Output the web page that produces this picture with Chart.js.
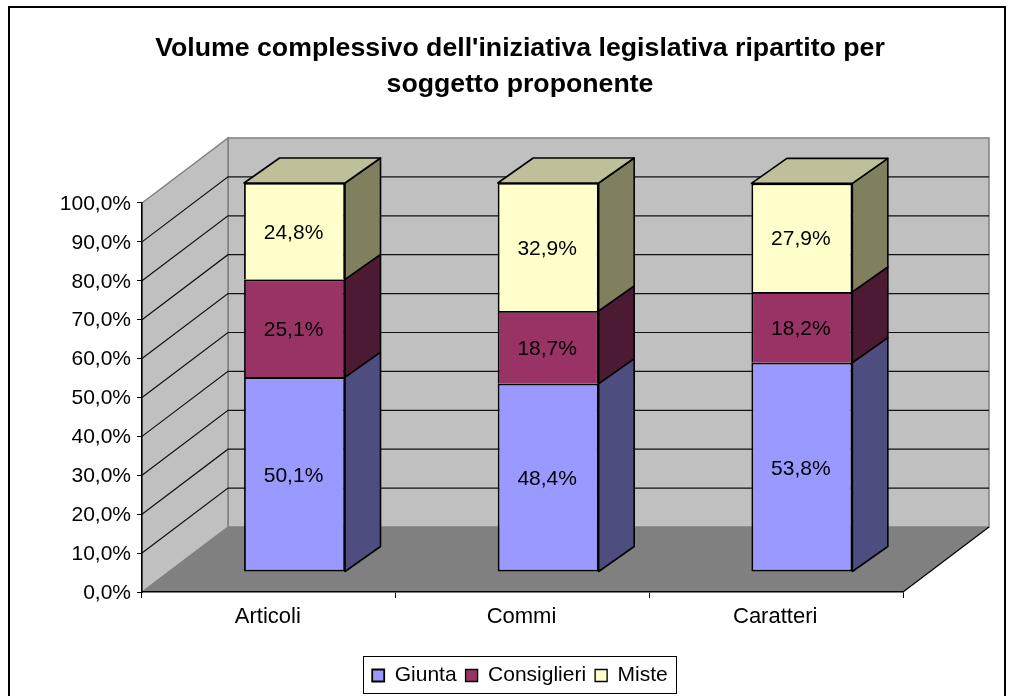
<!DOCTYPE html>
<html><head><meta charset="utf-8">
<style>html,body{margin:0;padding:0;background:#fff}canvas{display:block}</style>
<script src="https://cdn.jsdelivr.net/npm/chart.js@4"></script>
</head><body><canvas id="c" width="1016" height="696"></canvas>
<script>
const categories = ['Articoli','Commi','Caratteri'];
const seriesNames = ['Giunta','Consiglieri','Miste'];
const giunta = [50.1,48.4,53.8];
const consiglieri = [25.1,18.7,18.2];
const miste = [24.8,32.9,27.9];
const titleLines = ["Volume complessivo dell'iniziativa legislativa ripartito per","soggetto proponente"];
const colors = ['#9999FF','#993366','#FFFFCC'];
const sideColors = ['#4D4D80','#4D1A33','#80805F'];
const topColors = ['#7373BF','#732650','#BFBF99'];
const FONT = '"Liberation Sans", Arial, sans-serif';
const WALL = {dx:86, dy:-65};
const FRONT = {dx:25.7, dy:-20};
const BAR = {dx:35.5, dy:-25};
const fmt = v => v.toFixed(1).replace('.',',') + '%';

const scene = {
  id:'scene',
  beforeDraw(chart){
    const c = chart.ctx, a = chart.chartArea, y = chart.scales.y;
    y.left = 0; // y tick labels sit in the left layout padding
    c.save();
    c.fillStyle='#fff'; c.fillRect(0,0,chart.width,chart.height);
    c.strokeStyle='#000'; c.lineWidth=2;
    c.strokeRect(9,7,996,720);
    const L=a.left,R=a.right,B=a.bottom,T=a.top,dx=WALL.dx,dy=WALL.dy;
    c.fillStyle='#C0C0C0'; c.strokeStyle='#808080'; c.lineWidth=1.5;
    c.beginPath();c.moveTo(L+dx,T+dy);c.lineTo(R+dx,T+dy);c.lineTo(R+dx,B+dy);c.lineTo(L+dx,B+dy);c.closePath();c.fill();c.stroke();
    c.beginPath();c.moveTo(L,T);c.lineTo(L+dx,T+dy);c.lineTo(L+dx,B+dy);c.lineTo(L,B);c.closePath();c.fill();c.stroke();
    c.fillStyle='#808080';
    c.beginPath();c.moveTo(L,B);c.lineTo(L+dx,B+dy);c.lineTo(R+dx,B+dy);c.lineTo(R,B);c.closePath();c.fill();
    c.strokeStyle='#000'; c.lineWidth=1.2;
    c.beginPath();c.moveTo(R,B);c.lineTo(R+dx,B+dy);c.stroke();
    y.ticks.forEach(t=>{
      if(t.value===0||t.value===100) return;
      const p=y.getPixelForValue(t.value);
      c.strokeStyle='#111';c.lineWidth=1.2;
      c.beginPath();c.moveTo(L,p);c.lineTo(L+dx,p+dy);c.lineTo(R+dx,p+dy);c.stroke();
    });
    c.restore();
    const lg=chart.legend, h=lg.legendHitBoxes;
    const lx=Math.round(h[0].left)-9, rx=Math.round(h[h.length-1].left+h[h.length-1].width)+8;
    const cy=Math.round(lg.top+lg.height/2);
    c.save();c.strokeStyle='#000';c.lineWidth=1;
    c.strokeRect(lx+.5,cy-19.5,rx-lx,37);
    c.restore();
  },
  beforeDatasetsDraw(chart){
    const c=chart.ctx;
    c.save();
    c.translate(FRONT.dx,FRONT.dy);
    c.lineJoin='round';c.lineWidth=1.6;c.strokeStyle='#000';
    const n=chart.data.labels.length;
    for(let i=0;i<n;i++){
      chart.data.datasets.forEach((ds,k)=>{
        const b=chart.getDatasetMeta(k).data[i].getProps(['x','y','base','width'],true);
        const r=b.x+b.width/2,t=b.y,u=b.base,l=b.x-b.width/2;
        c.fillStyle=sideColors[k];
        c.beginPath();c.moveTo(r,t);c.lineTo(r+BAR.dx,t+BAR.dy);c.lineTo(r+BAR.dx,u+BAR.dy);c.lineTo(r,u);c.closePath();c.fill();c.stroke();
        if(k===chart.data.datasets.length-1){
          c.fillStyle=topColors[k];
          c.beginPath();c.moveTo(l,t);c.lineTo(l+BAR.dx,t+BAR.dy);c.lineTo(r+BAR.dx,t+BAR.dy);c.lineTo(r,t);c.closePath();c.fill();c.stroke();
        }
      });
    }
  },
  afterDatasetsDraw(chart){
    const c=chart.ctx;
    c.fillStyle='#000';c.font='21px '+FONT;c.textAlign='center';c.textBaseline='middle';
    chart.data.datasets.forEach((ds,k)=>{
      chart.getDatasetMeta(k).data.forEach((el,i)=>{
        const b=el.getProps(['x','y','base'],true);
        c.fillText(fmt(ds.data[i]),b.x-1,(b.y+b.base)/2+2);
      });
    });
    c.restore();
  }
};

new Chart(document.getElementById('c'),{
  type:'bar',
  data:{labels:categories,datasets:[giunta,consiglieri,miste].map((d,k)=>({
    label:seriesNames[k],data:d,backgroundColor:colors[k],borderColor:'#000',
    borderWidth:{top:1.8,left:1.8,right:1.8,bottom:k===0?1.8:0},borderSkipped:false,clip:false,
    barPercentage:0.398,categoryPercentage:1
  }))},
  plugins:[scene],
  options:{
    responsive:false,animation:false,devicePixelRatio:1,
    layout:{padding:{left:137,right:113,top:8,bottom:0}},
    scales:{
      x:{stacked:true,offset:true,
        grid:{drawOnChartArea:false,drawTicks:true,tickLength:6,color:'#000',offset:true},
        border:{color:'#000',width:1.5},
        ticks:{color:'#000',font:{family:FONT,size:22},padding:6,maxRotation:0,labelOffset:-1},
        afterFit(s){s.height=64}},
      y:{stacked:true,min:0,max:100,
        grid:{drawOnChartArea:false,drawTicks:true,tickLength:5,color:'#000'},
        border:{color:'#000',width:1.5},
        ticks:{stepSize:10,color:'#000',font:{family:FONT,size:21},padding:6,labelOffset:1,callback:v=>fmt(v)},
        afterFit(s){s.width=5}}
    },
    plugins:{
      tooltip:{enabled:false},
      title:{display:true,text:titleLines,color:'#000',font:{family:FONT,size:26.7,weight:'bold',lineHeight:1.348},padding:{top:23,bottom:100}},
      legend:{display:true,position:'bottom',labels:{color:'#000',font:{family:FONT,size:21},boxWidth:12,boxHeight:12,padding:9}}
    }
  }
});
</script></body></html>
